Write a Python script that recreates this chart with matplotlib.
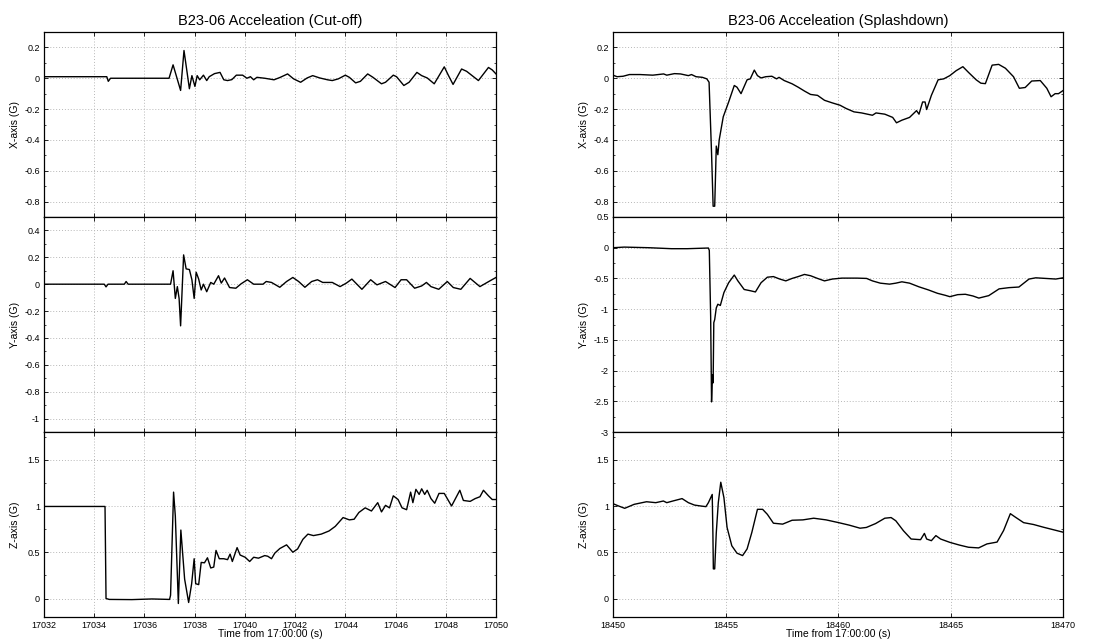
"""
B23-06 accelerometer traces around engine cut-off and splashdown.
Three stacked panels (X, Y, Z axis) for each event, shared time axis.
"""

import numpy as np
import matplotlib.pyplot as plt
from matplotlib.ticker import FuncFormatter, MultipleLocator, AutoMinorLocator

plt.rcParams["font.family"] = ["Liberation Sans", "DejaVu Sans"]
plt.rcParams["axes.unicode_minus"] = False

# -------------------------------------------------
# Data: (time from 17:00:00 [s], acceleration [G])
# -------------------------------------------------
cutoff_x = [
    (17032, 0.01), (17034.5, 0.01), (17034.56, -0.02), (17034.65, 0.0), (17036.98, 0.0),
    (17037.14, 0.087), (17037.44, -0.079), (17037.575, 0.18), (17037.79, -0.068),
    (17037.89, 0.017), (17038.01, -0.053), (17038.1, 0.017), (17038.2, -0.01),
    (17038.35, 0.02), (17038.48, -0.015), (17038.58, 0.01), (17038.79, 0.03),
    (17039.01, 0.038), (17039.16, -0.01), (17039.31, -0.015), (17039.48, -0.009),
    (17039.66, 0.02), (17039.91, 0.02), (17040.08, 0.0), (17040.22, 0.01),
    (17040.35, -0.01), (17040.48, 0.006), (17040.79, 0.0), (17041.16, -0.01),
    (17041.41, 0.006), (17041.7, 0.028), (17041.94, -0.004), (17042.22, -0.026),
    (17042.48, 0.002), (17042.7, 0.017), (17042.98, 0.002), (17043.29, -0.01),
    (17043.48, -0.015), (17043.72, -0.004), (17044.0, 0.02), (17044.16, 0.006),
    (17044.41, -0.03), (17044.6, -0.02), (17044.89, 0.028), (17045.1, 0.006),
    (17045.44, -0.036), (17045.6, -0.026), (17045.91, 0.02), (17046.04, 0.01),
    (17046.33, -0.047), (17046.54, -0.026), (17046.85, 0.038), (17047.04, 0.017),
    (17047.26, 0.002), (17047.54, -0.036), (17047.94, 0.074), (17048.1, 0.02),
    (17048.29, -0.04), (17048.63, 0.06), (17048.83, 0.045), (17049.3, -0.015),
    (17049.7, 0.07), (17049.85, 0.054), (17050, 0.028),
]

cutoff_y = [
    (17032, 0.0), (17034.4, 0.0), (17034.47, -0.02), (17034.55, 0.0), (17035.2, 0.0),
    (17035.27, 0.02), (17035.35, 0.0), (17037.04, 0.0), (17037.14, 0.1),
    (17037.23, -0.106), (17037.31, -0.018), (17037.38, -0.106), (17037.44, -0.31),
    (17037.56, 0.218), (17037.66, 0.114), (17037.79, 0.109), (17037.89, 0.033),
    (17037.98, -0.106), (17038.06, 0.089), (17038.16, 0.038), (17038.26, -0.043),
    (17038.35, 0.0), (17038.48, -0.056), (17038.64, 0.013), (17038.76, 0.0),
    (17038.95, 0.063), (17039.06, 0.008), (17039.19, 0.046), (17039.39, -0.025),
    (17039.64, -0.03), (17039.85, 0.003), (17040.1, 0.033), (17040.35, 0.0),
    (17040.72, 0.0), (17040.85, 0.02), (17041.06, 0.013), (17041.39, -0.023),
    (17041.66, 0.02), (17041.91, 0.05), (17042.14, 0.02), (17042.39, -0.023),
    (17042.66, 0.02), (17042.89, 0.033), (17043.1, 0.013), (17043.48, 0.013),
    (17043.79, -0.018), (17044.04, 0.008), (17044.26, 0.038), (17044.66, -0.038),
    (17045.01, 0.033), (17045.26, -0.005), (17045.6, 0.02), (17045.98, -0.025),
    (17046.22, 0.033), (17046.44, 0.033), (17046.76, -0.03), (17047.04, -0.013),
    (17047.23, 0.013), (17047.41, -0.018), (17047.72, -0.038), (17048.06, 0.02),
    (17048.3, -0.025), (17048.6, -0.038), (17048.97, 0.043), (17049.36, -0.018),
    (17049.76, 0.025), (17050, 0.05),
]

cutoff_z = [
    (17032, 0.995), (17034.43, 0.995), (17034.47, 0.0), (17034.6, -0.01),
    (17035.5, -0.012), (17036.3, -0.005), (17037.0, -0.01), (17037.04, 0.035),
    (17037.16, 1.15), (17037.23, 0.89), (17037.35, -0.054), (17037.45, 0.74),
    (17037.6, 0.21), (17037.76, -0.043), (17037.88, 0.16), (17037.98, 0.43),
    (17038.04, 0.16), (17038.16, 0.15), (17038.26, 0.39), (17038.39, 0.386),
    (17038.51, 0.44), (17038.64, 0.33), (17038.76, 0.34), (17038.85, 0.52),
    (17038.98, 0.43), (17039.16, 0.43), (17039.31, 0.42), (17039.41, 0.48),
    (17039.5, 0.4), (17039.69, 0.55), (17039.81, 0.47), (17040.01, 0.446),
    (17040.19, 0.4), (17040.35, 0.446), (17040.54, 0.436), (17040.79, 0.464),
    (17040.91, 0.457), (17041.06, 0.43), (17041.19, 0.49), (17041.39, 0.54),
    (17041.66, 0.58), (17041.91, 0.5), (17042.1, 0.536), (17042.31, 0.64),
    (17042.51, 0.696), (17042.73, 0.68), (17043.04, 0.696), (17043.35, 0.73),
    (17043.6, 0.78), (17043.91, 0.875), (17044.16, 0.85), (17044.35, 0.857),
    (17044.54, 0.93), (17044.79, 0.98), (17045.04, 0.946), (17045.29, 1.036),
    (17045.44, 0.936), (17045.6, 1.007), (17045.76, 0.98), (17045.91, 1.11),
    (17046.1, 1.07), (17046.26, 0.98), (17046.44, 0.96), (17046.6, 1.15),
    (17046.69, 1.036), (17046.81, 1.18), (17046.94, 1.125), (17047.04, 1.186),
    (17047.16, 1.125), (17047.26, 1.17), (17047.41, 1.08), (17047.56, 1.03),
    (17047.73, 1.136), (17047.94, 1.136), (17048.23, 1.0), (17048.56, 1.17),
    (17048.7, 1.06), (17048.97, 1.05), (17049.17, 1.08), (17049.36, 1.1),
    (17049.5, 1.17), (17049.7, 1.11), (17049.85, 1.07), (17050, 1.07),
]

splash_x = [
    (18450, 0.02), (18450.18, 0.01), (18450.45, 0.013), (18450.73, 0.024),
    (18451.2, 0.024), (18451.77, 0.02), (18452.25, 0.028), (18452.39, 0.02),
    (18452.73, 0.03), (18453.0, 0.028), (18453.35, 0.017), (18453.49, 0.024),
    (18453.69, 0.01), (18453.97, 0.006), (18454.17, -0.004), (18454.27, -0.026),
    (18454.38, -0.485), (18454.45, -0.83), (18454.52, -0.83), (18454.55, -0.667),
    (18454.59, -0.44), (18454.66, -0.496), (18454.72, -0.4), (18454.9, -0.25),
    (18455.14, -0.154), (18455.39, -0.047), (18455.51, -0.058), (18455.69, -0.1),
    (18455.96, -0.01), (18456.1, -0.004), (18456.28, 0.053), (18456.42, 0.017),
    (18456.58, 0.002), (18456.79, 0.01), (18457.06, 0.013), (18457.27, -0.004),
    (18457.38, 0.006), (18457.61, -0.015), (18457.96, -0.036), (18458.23, -0.058),
    (18458.51, -0.083), (18458.78, -0.105), (18459.09, -0.111), (18459.4, -0.143),
    (18459.75, -0.16), (18460.09, -0.175), (18460.36, -0.196), (18460.71, -0.218),
    (18461.05, -0.225), (18461.53, -0.24), (18461.69, -0.225), (18462.08, -0.233),
    (18462.43, -0.254), (18462.6, -0.289), (18462.84, -0.272), (18463.18, -0.254),
    (18463.49, -0.21), (18463.6, -0.233), (18463.76, -0.154), (18463.87, -0.154),
    (18463.94, -0.203), (18464.15, -0.111), (18464.45, -0.01), (18464.7, -0.004),
    (18464.97, 0.017), (18465.25, 0.049), (18465.55, 0.075), (18465.8, 0.038),
    (18466.14, -0.01), (18466.35, -0.032), (18466.55, -0.035), (18466.85, 0.085),
    (18467.14, 0.09), (18467.44, 0.065), (18467.8, 0.01), (18468.06, -0.065),
    (18468.32, -0.06), (18468.61, -0.018), (18468.99, -0.015), (18469.28, -0.065),
    (18469.47, -0.12), (18469.65, -0.1), (18469.8, -0.1), (18470, -0.08),
]

splash_y = [
    (18450, 0.0), (18450.5, 0.01), (18451.6, 0.0), (18452.6, -0.016), (18453.3, -0.016),
    (18454.24, -0.005), (18454.28, -0.044), (18454.34, -1.115), (18454.38, -2.51),
    (18454.42, -2.07), (18454.45, -2.2), (18454.48, -1.22), (18454.52, -1.17),
    (18454.59, -0.98), (18454.66, -0.92), (18454.77, -0.94), (18454.93, -0.73),
    (18455.14, -0.57), (18455.39, -0.445), (18455.55, -0.54), (18455.83, -0.68),
    (18456.1, -0.7), (18456.33, -0.72), (18456.58, -0.57), (18456.86, -0.48),
    (18457.13, -0.47), (18457.41, -0.51), (18457.68, -0.54), (18457.96, -0.5),
    (18458.23, -0.47), (18458.51, -0.435), (18458.78, -0.456), (18459.09, -0.5),
    (18459.4, -0.54), (18459.75, -0.51), (18460.17, -0.495), (18460.85, -0.495),
    (18461.27, -0.5), (18461.53, -0.54), (18461.88, -0.577), (18462.29, -0.593),
    (18462.57, -0.577), (18462.84, -0.555), (18463.18, -0.577), (18463.6, -0.637),
    (18464.01, -0.686), (18464.42, -0.742), (18464.77, -0.775), (18464.97, -0.797),
    (18465.32, -0.764), (18465.66, -0.758), (18466.0, -0.786), (18466.26, -0.82),
    (18466.7, -0.78), (18467.16, -0.67), (18467.6, -0.65), (18468.04, -0.64),
    (18468.49, -0.51), (18468.79, -0.49), (18469.23, -0.5), (18469.68, -0.51),
    (18470, -0.49),
]

splash_z = [
    (18450, 1.025), (18450.25, 1.0), (18450.52, 0.975), (18450.94, 1.018),
    (18451.49, 1.046), (18451.9, 1.036), (18452.24, 1.054), (18452.39, 1.036),
    (18452.66, 1.054), (18453.07, 1.08), (18453.35, 1.036), (18453.62, 1.01),
    (18453.9, 1.0), (18454.13, 0.993), (18454.24, 1.036), (18454.41, 1.125),
    (18454.44, 0.7), (18454.46, 0.32), (18454.52, 0.32), (18454.59, 0.71),
    (18454.68, 1.036), (18454.79, 1.257), (18454.93, 1.09), (18455.07, 0.768),
    (18455.28, 0.57), (18455.51, 0.49), (18455.76, 0.464), (18455.96, 0.536),
    (18456.17, 0.714), (18456.42, 0.964), (18456.65, 0.964), (18456.86, 0.91),
    (18457.13, 0.814), (18457.54, 0.804), (18457.96, 0.846), (18458.44, 0.85),
    (18458.92, 0.868), (18459.47, 0.85), (18460.03, 0.82), (18460.5, 0.793),
    (18460.98, 0.76), (18461.26, 0.768), (18461.67, 0.81), (18462.08, 0.868),
    (18462.36, 0.875), (18462.57, 0.84), (18462.91, 0.732), (18463.25, 0.643),
    (18463.67, 0.636), (18463.84, 0.704), (18463.94, 0.643), (18464.15, 0.625),
    (18464.35, 0.68), (18464.56, 0.643), (18464.97, 0.607), (18465.39, 0.578),
    (18465.8, 0.554), (18466.25, 0.547), (18466.62, 0.59), (18467.07, 0.61),
    (18467.36, 0.735), (18467.66, 0.917), (18467.88, 0.88), (18468.25, 0.82),
    (18468.69, 0.8), (18469.14, 0.77), (18469.58, 0.743), (18470, 0.717),
]

axis_labels = ["X-axis (G)", "Y-axis (G)", "Z-axis (G)"]
titles = ["B23-06 Acceleation (Cut-off)", "B23-06 Acceleation (Splashdown)"]
xlabel = "Time from 17:00:00 (s)"

# -------------------------------------------------
# Panel geometry / axis limits
# -------------------------------------------------
W, H = 1116, 640
col_x = [(44, 496), (613, 1063)]             # left/right edges in px
row_y = [(32, 217), (217, 432), (432, 617)]  # top/bottom edges in px

columns = [
    dict(series=[cutoff_x, cutoff_y, cutoff_z], xlim=(17032, 17050), xstep=2,
         ylims=[(-0.9, 0.3), (-1.1, 0.5), (-0.2, 1.8)], ysteps=[0.2, 0.2, 0.5],
         ylabel_x=20),
    dict(series=[splash_x, splash_y, splash_z], xlim=(18450, 18470), xstep=5,
         ylims=[(-0.9, 0.3), (-3, 0.5), (-0.2, 1.8)], ysteps=[0.2, 0.5, 0.5],
         ylabel_x=589),
]

fmt = FuncFormatter(lambda v, pos: "%g" % round(v, 6))

fig = plt.figure(figsize=(W / 100, H / 100), dpi=100)

for c, col in enumerate(columns):
    x0, x1 = col_x[c]
    for r in range(3):
        y0, y1 = row_y[r]
        ax = fig.add_axes([x0 / W, 1 - y1 / H, (x1 - x0) / W, (y1 - y0) / H])
        data = np.array(col["series"][r])
        ax.plot(data[:, 0], data[:, 1], color="black", linewidth=1.0)

        ax.set_xlim(*col["xlim"])
        ax.set_ylim(*col["ylims"][r])
        ax.xaxis.set_major_locator(MultipleLocator(col["xstep"]))
        ax.yaxis.set_major_locator(MultipleLocator(col["ysteps"][r]))
        ax.yaxis.set_minor_locator(AutoMinorLocator(2))
        ax.yaxis.set_major_formatter(fmt)
        ax.xaxis.set_major_formatter(FuncFormatter(lambda v, pos: "%d" % v))

        ax.grid(True, which="major", color="#b8b8b8", linestyle=(0, (1, 2)),
                linewidth=0.7)
        ax.tick_params(which="both", direction="in", top=True, right=True,
                       labelsize=6.5, pad=3, colors="black")
        ax.tick_params(which="major", length=3, width=0.6)
        ax.tick_params(which="minor", length=1.5, width=0.5)
        for s in ax.spines.values():
            s.set_linewidth(0.9)

        ax.set_ylabel(axis_labels[r], fontsize=7.5)
        ax.yaxis.set_label_coords((col["ylabel_x"] - x0) / (x1 - x0), 0.5)

        if r == 0:
            ax.set_title(titles[c], fontsize=10.5, pad=5)
        if r < 2:
            ax.tick_params(labelbottom=False)
        else:
            ax.set_xlabel(xlabel, fontsize=7.5, labelpad=-1)

plt.savefig("out.png", dpi=100)
plt.close()
